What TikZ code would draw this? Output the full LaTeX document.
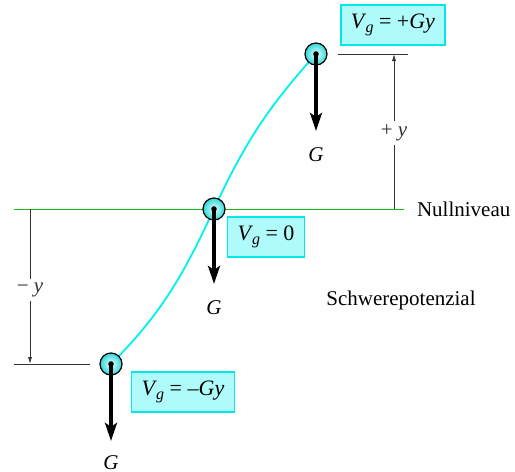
\documentclass[tikz,border=0pt]{standalone}
\usepackage{fontspec}
\setmainfont{Liberation Serif}
\usepackage{xcolor}
\usetikzlibrary{arrows.meta, positioning}
\definecolor{boxfill}{HTML}{AFFAFA}
\definecolor{boxline}{HTML}{00E8E8}
\definecolor{pathcol}{HTML}{00F0F0}
\definecolor{ballin}{HTML}{E8FFFF}
\definecolor{ballout}{HTML}{30D8D8}
\definecolor{nullline}{HTML}{11BB11}
\definecolor{refline}{HTML}{333333}
\newcommand{\Vg}{\textit{V}\kern-0.5pt\raisebox{-0.35ex}{\footnotesize\textit{g}}}

\begin{document}
\begin{tikzpicture}[x=0.5pt, y=-0.5pt,
      >=Stealth, font=\fontsize{10.5}{12}\selectfont,
      ball/.style={circle, draw=black, line width=0.6pt, minimum size=11pt, inner sep=0pt,
        inner color=ballin, outer color=ballout},
      dot/.style={circle, fill=black, minimum size=2.8pt, inner sep=0pt},
      force/.style={-{Stealth[length=9pt, width=6pt, inset=2pt]}, line width=1.6pt},
      dim/.style={-{Latex[length=3.5pt, width=2pt]}, line width=0.4pt, refline},
      vbox/.style={draw=boxline, fill=boxfill, line width=0.6pt, minimum height=20pt,
        inner xsep=5pt, font=\fontsize{11}{13}\selectfont},
      lbl/.style={fill=white, inner sep=2pt}]
    \useasboundingbox (0,0) rectangle (515,472);
    % levels
    \draw[nullline, line width=0.5pt] (14,209) coordinate (nullL) -- (404,209) coordinate (nullR);
    \node[anchor=west] (null) at (410,209) {Nullniveau};
    \draw[refline, line width=0.5pt] (338,54) coordinate (topL) -- (408,54) coordinate (topR);
    \draw[refline, line width=0.5pt] (14,364) coordinate (botL) -- (90,364) coordinate (botR);
    \coordinate (dimtop0) at (394,209);
    \coordinate (dimtop1) at (394,54);
    \coordinate (dimbot0) at (30,209);
    \coordinate (dimbot1) at (30,364);
    \draw[dim] (dimtop0) -- node[lbl, pos=0.49] {+ \textit{y}} (dimtop1);
    \draw[dim] (dimbot0) -- node[lbl, pos=0.52] {\textminus\ \textit{y}} (dimbot1);
    % path of the mass
    \coordinate (pbot) at (111,364);
    \coordinate (pmid) at (214,209);
    \coordinate (ptop) at (316,54);
    \draw[pathcol, line width=0.9pt] (pbot) to[out=45, in=245] (pmid) to[out=65, in=228] (ptop);
    % masses
    \node[ball] (btop) at (ptop) {};
    \node[ball] (bmid) at (pmid) {};
    \node[ball] (bbot) at (pbot) {};
    \node (gtop) at (316,155) {\textit{G}};
    \node (gmid) at (214,308) {\textit{G}};
    \node (gbot) at (111,463) {\textit{G}};
    \draw[force] (btop.center) -- ([yshift=5pt]gtop.north);
    \draw[force] (bmid.center) -- ([yshift=5pt]gmid.north);
    \draw[force] (bbot.center) -- ([yshift=4pt]gbot.north);
    \node[dot] at (btop) {};
    \node[dot] at (bmid) {};
    \node[dot] at (bbot) {};
    % potentials
    \node[vbox] (vtop) at (393,25) {\Vg{} = +\textit{Gy}};
    \node[vbox] (vmid) at (266,237) {\Vg{} = 0};
    \node[vbox] (vbot) at (183,392) {\Vg{} = –\textit{Gy}};
    \node (title) at (401,300) {Schwerepotenzial};
\end{tikzpicture}
\end{document}
